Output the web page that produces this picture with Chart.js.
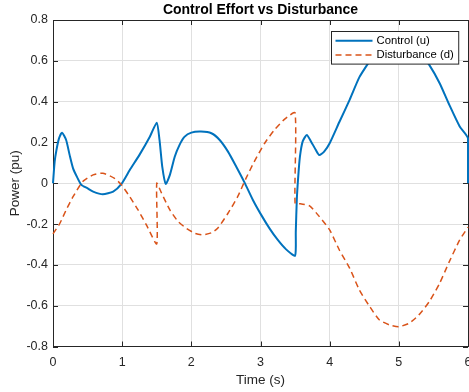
<!DOCTYPE html>
<html>
<head>
<meta charset="utf-8">
<script src="https://cdn.jsdelivr.net/npm/chart.js@4.4.0/dist/chart.umd.min.js"></script>
<style>
  html, body { margin: 0; padding: 0; background: #fff; }
  #wrap { width: 469px; height: 392px; }
</style>
</head>
<body>
<div id="wrap"><canvas id="effortChart" width="469" height="392"></canvas></div>
<script>
// Values (time in s, power in pu)
var uTime = [0, 0.024, 0.05, 0.087, 0.13, 0.19, 0.24, 0.29, 0.35, 0.41,
             0.5, 0.58, 0.72, 0.87, 0.99, 1.11, 1.25, 1.4, 1.5, 1.54,
             1.58, 1.63, 1.69, 1.76, 1.83, 1.9, 2.0, 2.14, 2.29, 2.41,
             2.53, 2.65, 2.77, 2.89, 3.01, 3.13, 3.25, 3.37, 3.5, 3.51,
             3.525, 3.545, 3.57, 3.61, 3.67, 3.73, 3.8, 3.85, 3.92, 4.0,
             4.14, 4.29, 4.43, 4.58, 4.72, 4.87, 5.0, 5.15, 5.29, 5.44,
             5.59, 5.73, 5.88, 6.0, 6.0];
var uValue = [0, 0.106, 0.163, 0.22, 0.248, 0.212, 0.139, 0.073, 0.029, -0.008,
              -0.025, -0.041, -0.054, -0.041, -0.003, 0.065, 0.139, 0.228, 0.297, 0.212,
              0.08, -0.003, 0.041, 0.13, 0.188, 0.227, 0.248, 0.253, 0.245, 0.212,
              0.155, 0.081, 0.003, -0.082, -0.155, -0.221, -0.278, -0.324, -0.355, -0.24,
              -0.08, 0.03, 0.13, 0.205, 0.237, 0.205, 0.163, 0.138, 0.155, 0.196,
              0.3, 0.41, 0.52, 0.6, 0.67, 0.695, 0.70, 0.686, 0.645, 0.58,
              0.49, 0.384, 0.278, 0.22, 0];

var dTime = [0, 0.1, 0.19, 0.29, 0.43, 0.58, 0.72, 0.89, 0.99, 1.11,
             1.23, 1.35, 1.5, 1.5, 1.57, 1.69, 1.81, 1.93, 2.05, 2.17,
             2.29, 2.38, 2.53, 2.67, 2.79, 2.91, 3.06, 3.2, 3.35, 3.5,
             3.5, 3.57, 3.71, 3.85, 4.0, 4.14, 4.29, 4.43, 4.58, 4.72,
             4.87, 5.0, 5.15, 5.29, 5.44, 5.59, 5.73, 5.88, 6.0];
var dValue = [-0.248, -0.196, -0.131, -0.066, 0.008, 0.041, 0.049, 0.024, -0.008, -0.066,
              -0.131, -0.204, -0.297, 0, -0.049, -0.131, -0.188, -0.221, -0.245, -0.253,
              -0.243, -0.221, -0.147, -0.066, 0.024, 0.106, 0.196, 0.261, 0.314, 0.345,
              -0.1, -0.1, -0.111, -0.163, -0.229, -0.327, -0.417, -0.523, -0.605, -0.67,
              -0.695, -0.703, -0.686, -0.645, -0.58, -0.49, -0.384, -0.278, -0.215];

var seriesLabels = ["Control (u)", "Disturbance (d)"];
var xLimits = [0, 6];
var yLimits = [-0.8, 0.8];

var fontFamily = "'Liberation Sans', Arial, Helvetica, sans-serif";
var axisColor = '#262626';
var gridColor = '#e0e0e0';

function toPoints(xs, ys) {
    return xs.map(function (x, i) { return { x: x, y: ys[i] }; });
}

// top/right box edges and inward tick marks, like a matlab axes
var boxPlugin = {
    id: 'matlabBox',
    beforeDatasetsDraw: function (chart) {
        var ctx = chart.ctx;
        var a = chart.chartArea;
        var xs = chart.scales.x;
        var ys = chart.scales.y;
        var tick = 5;
        ctx.save();
        ctx.strokeStyle = axisColor;
        ctx.lineWidth = 1;
        ctx.beginPath();
        ctx.moveTo(a.left, Math.round(a.top) + 0.5);
        ctx.lineTo(a.right, Math.round(a.top) + 0.5);
        ctx.moveTo(Math.round(a.right) + 0.5, a.top);
        ctx.lineTo(Math.round(a.right) + 0.5, a.bottom);
        xs.ticks.forEach(function (t) {
            var px = Math.round(xs.getPixelForValue(t.value)) + 0.5;
            ctx.moveTo(px, a.bottom);
            ctx.lineTo(px, a.bottom - tick);
            ctx.moveTo(px, a.top);
            ctx.lineTo(px, a.top + tick);
        });
        ys.ticks.forEach(function (t) {
            var py = Math.round(ys.getPixelForValue(t.value)) + 0.5;
            ctx.moveTo(a.left, py);
            ctx.lineTo(a.left + tick, py);
            ctx.moveTo(a.right, py);
            ctx.lineTo(a.right - tick, py);
        });
        ctx.stroke();
        ctx.restore();
    }
};

// boxed legend in the upper right corner of the plot
var legendPlugin = {
    id: 'boxLegend',
    afterDatasetsDraw: function (chart) {
        var ctx = chart.ctx;
        var a = chart.chartArea;
        var sets = chart.data.datasets;
        var sampleLen = 37, padL = 4, gap = 4, padR = 5, rowH = 14.3;
        ctx.save();
        ctx.font = '11.3px ' + fontFamily;
        var textW = 0;
        sets.forEach(function (ds) {
            textW = Math.max(textW, ctx.measureText(ds.label).width);
        });
        var w = padL + sampleLen + gap + textW + padR;
        var h = rowH * sets.length + 4;
        var x0 = Math.round(a.right - 10 - w) + 0.5;
        var y0 = Math.round(a.top + 11) + 0.5;
        ctx.fillStyle = '#fff';
        ctx.fillRect(x0, y0, w, h);
        ctx.strokeStyle = axisColor;
        ctx.lineWidth = 1;
        ctx.strokeRect(x0, y0, w, h);

        sets.forEach(function (ds, i) {
            var cy = y0 + 2 + rowH * (i + 0.5);
            ctx.beginPath();
            ctx.strokeStyle = ds.borderColor;
            ctx.lineWidth = ds.borderWidth;
            ctx.setLineDash(ds.borderDash || []);
            ctx.moveTo(x0 + padL, cy);
            ctx.lineTo(x0 + padL + sampleLen, cy);
            ctx.stroke();
            ctx.setLineDash([]);
            ctx.fillStyle = '#000';
            ctx.textAlign = 'left';
            ctx.textBaseline = 'middle';
            ctx.fillText(ds.label, x0 + padL + sampleLen + gap, cy);
        });
        ctx.restore();
    }
};

var ctx = document.getElementById('effortChart').getContext('2d');
var effortChart = new Chart(ctx, {
    type: 'line',
    data: {
        datasets: [
            {
                label: seriesLabels[0],
                data: toPoints(uTime, uValue),
                borderColor: '#0072BD',
                borderWidth: 2,
                pointRadius: 0,
                tension: 0.2,
                fill: false,
                clip: false,
                order: 2
            },
            {
                label: seriesLabels[1],
                data: toPoints(dTime, dValue),
                borderColor: '#D95319',
                borderWidth: 1.5,
                borderDash: [6, 4],
                pointRadius: 0,
                tension: 0.2,
                fill: false,
                clip: false,
                order: 1
            }
        ]
    },
    options: {
        responsive: false,
        animation: false,
        devicePixelRatio: 1,
        layout: { padding: { left: 0, right: 1, top: 0, bottom: 0 } },
        plugins: {
            legend: { display: false },
            tooltip: { enabled: false },
            title: {
                display: true,
                text: 'Control Effort vs Disturbance',
                color: '#000',
                fullSize: false,
                font: { family: fontFamily, size: 14, weight: 'bold' },
                padding: { top: 2, bottom: 1.2 }
            }
        },
        scales: {
            x: {
                type: 'linear',
                min: xLimits[0],
                max: xLimits[1],
                grid: { color: gridColor, lineWidth: 1, drawTicks: false },
                border: { display: true, color: axisColor, width: 1 },
                ticks: {
                    stepSize: 1,
                    padding: 9,
                    color: axisColor,
                    font: { family: fontFamily, size: 12.5 },
                    maxRotation: 0
                },
                title: {
                    display: true,
                    text: 'Time (s)',
                    color: axisColor,
                    font: { family: fontFamily, size: 13.5 },
                    padding: { top: 0, bottom: 3.6 }
                },
                afterFit: function (scale) {
                    scale.height = 45.5;
                    scale.paddingRight = 0;
                }
            },
            y: {
                min: yLimits[0],
                max: yLimits[1],
                grid: { color: gridColor, lineWidth: 1, drawTicks: false },
                border: { display: true, color: axisColor, width: 1 },
                ticks: {
                    stepSize: 0.2,
                    padding: 5,
                    color: axisColor,
                    font: { family: fontFamily, size: 12.5 },
                    callback: function (v) { return String(+v.toFixed(1)); }
                },
                title: {
                    display: true,
                    text: 'Power (pu)',
                    color: axisColor,
                    font: { family: fontFamily, size: 13.5 },
                    padding: { top: 7, bottom: 0 }
                },
                afterFit: function (scale) {
                    scale.width = 53;
                }
            }
        }
    },
    plugins: [boxPlugin, legendPlugin]
});
</script>
</body>
</html>
